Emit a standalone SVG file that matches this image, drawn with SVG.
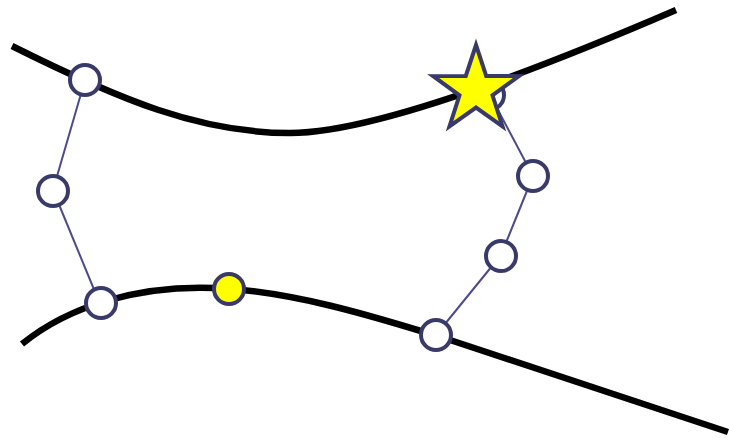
<svg xmlns="http://www.w3.org/2000/svg" width="729" height="438" viewBox="0 0 729 438">
<style>
.curve{fill:none;stroke:#000;stroke-width:6.5}
.conn{stroke:#4a4a8c;stroke-width:2;fill:none}
.node{fill:#fff;stroke:#3a3a6a;stroke-width:4}
.hl{fill:#ffff00;stroke:#3a3a6a;stroke-width:4}
</style>
<rect width="729" height="438" fill="#fff"/>
<g id="curves">
<path class="curve" d="M12,46 C120,100 200,133 290,133 S560,60 676,10"/>
<path class="curve" d="M22,344 C70,305 140,285 215,288 S370,315 450,340 L728,432"/>
</g>
<g id="connectors">
<line class="conn" x1="85" y1="80" x2="53" y2="190"/>
<line class="conn" x1="53" y1="190" x2="100" y2="304"/>
<line class="conn" x1="436" y1="335" x2="501" y2="255"/>
<line class="conn" x1="501" y1="255" x2="533" y2="176"/>
<line class="conn" x1="533" y1="176" x2="490" y2="95"/>
</g>
<g id="n1"><circle class="node" cx="85" cy="80" r="15"/></g>
<g id="n2"><circle class="node" cx="53" cy="191" r="15"/></g>
<g id="n3"><circle class="node" cx="101" cy="303" r="15"/></g>
<g id="n4"><circle class="hl" cx="229" cy="289" r="15"/></g>
<g id="n5"><circle class="node" cx="436" cy="335" r="15"/></g>
<g id="n6"><circle class="node" cx="501" cy="256" r="15"/></g>
<g id="n7"><circle class="node" cx="533" cy="176" r="15"/></g>
<g id="n8"><circle class="node" cx="489" cy="95" r="15"/></g>
<g id="star"><polygon class="hl" points="476,45 486.2,75.9 518.8,76.1 492.5,95.3 502.5,126.4 476,107.5 449.5,126.4 459.5,95.3 433.2,76.1 465.8,75.9"/></g>
</svg>
